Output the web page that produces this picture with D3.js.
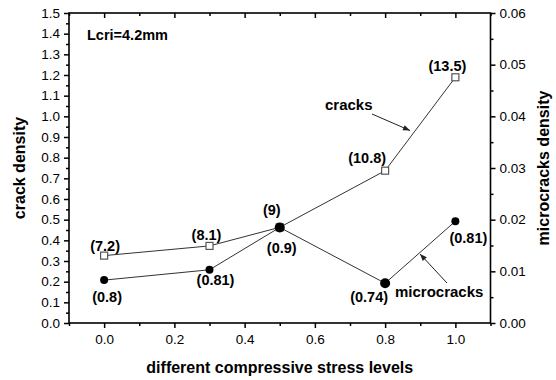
<!DOCTYPE html>
<html>
<head>
<meta charset="utf-8">
<script src="https://cdn.jsdelivr.net/npm/d3@7"></script>
<style>
  body { margin: 0; background: #fff; }
  svg { display: block; font-family: "Liberation Sans", Arial, sans-serif; }
  .tick text { font-size: 13.5px; fill: #000; }
</style>
</head>
<body>
<div id="chart"></div>
<script>
// chart data
var stress = [0.0, 0.3, 0.5, 0.8, 1.0];           // compressive stress levels
var crackDensity = [0.326, 0.373, 0.463, 0.737, 1.189];  // left axis
var microDensity = [0.0083, 0.0103, 0.0185, 0.0077, 0.0197]; // right axis
var crackLabels = ["(7.2)", "(8.1)", "(9)", "(10.8)", "(13.5)"];
var microLabels = ["(0.8)", "(0.81)", "(0.9)", "(0.74)", "(0.81)"];
var xTicks = [0.0, 0.2, 0.4, 0.6, 0.8, 1.0];
var yLeftTicks = d3.range(0, 16).map(i => i / 10);
var yRightTicks = [0, 0.01, 0.02, 0.03, 0.04, 0.05, 0.06];

// label placement (offset from point, px)
var crackLabelOff = [[1, -5], [-3, -6], [-8, -12], [-18, -8], [-8, -6]];
var microLabelOff = [[3, 22], [6, 15], [2, 26], [-16, 19], [13, 22]];

const width = 556,
    height = 380,
    pLeft = 69, pRight = 490.5, pTop = 13, pBottom = 323;

var svg = d3.select("#chart").append("svg")
    .attr("width", width)
    .attr("height", height);

var x = d3.scaleLinear().domain([-0.1, 1.1]).range([pLeft, pRight]);
var yL = d3.scaleLinear().domain([0, 1.5]).range([pBottom, pTop]);
var yR = d3.scaleLinear().domain([0, 0.06]).range([pBottom, pTop]);

// arrow head
svg.append("defs").append("marker")
    .attr("id", "arr")
    .attr("viewBox", "0 0 10 10")
    .attr("refX", 10).attr("refY", 5)
    .attr("markerWidth", 9).attr("markerHeight", 7)
    .attr("markerUnits", "userSpaceOnUse")
    .attr("orient", "auto")
    .append("path").attr("d", "M0,1L10,5L0,9Z").attr("fill", "#222");

// minor ticks
function minor(axis, vals) {
    return axis.tickValues(vals).tickFormat("").tickSizeOuter(0);
}
var xMinor = d3.range(-1, 12).map(i => i / 10).filter(v => Math.round(v * 10) % 2 != 0);
var yLMinor = d3.range(0, 15).map(i => i / 10 + 0.05);
var yRMinor = d3.range(0, 6).map(i => i / 100 + 0.005);

svg.append("g").attr("transform", "translate(0," + pBottom + ")")
    .call(minor(d3.axisBottom(x).tickSize(3), xMinor));
svg.append("g").attr("transform", "translate(0," + pTop + ")")
    .call(minor(d3.axisBottom(x).tickSize(3), xMinor));
svg.append("g").attr("transform", "translate(" + pLeft + ",0)")
    .call(minor(d3.axisLeft(yL).tickSize(3), yLMinor));
svg.append("g").attr("transform", "translate(" + pRight + ",0)")
    .call(minor(d3.axisRight(yR).tickSize(3), yRMinor));

// major axes
svg.append("g").attr("transform", "translate(0," + pBottom + ")")
    .call(d3.axisBottom(x).tickValues(xTicks).tickFormat(d3.format(".1f")).tickSize(5).tickSizeOuter(0).tickPadding(6));
svg.append("g").attr("transform", "translate(0," + pTop + ")")
    .call(d3.axisBottom(x).tickValues(xTicks).tickFormat("").tickSize(5).tickSizeOuter(0));
svg.append("g").attr("transform", "translate(" + pLeft + ",0)")
    .call(d3.axisLeft(yL).tickValues(yLeftTicks).tickFormat(d3.format(".1f")).tickSize(5).tickSizeOuter(0).tickPadding(4));
svg.append("g").attr("transform", "translate(" + pRight + ",0)")
    .call(d3.axisRight(yR).tickValues(yRightTicks).tickFormat(d3.format(".2f")).tickSize(5).tickSizeOuter(0).tickPadding(4));

svg.selectAll(".domain").remove();
svg.selectAll(".tick line").attr("stroke", "#000").attr("stroke-width", 1.5);

// frame
svg.append("rect")
    .attr("x", pLeft).attr("y", pTop)
    .attr("width", pRight - pLeft).attr("height", pBottom - pTop)
    .attr("fill", "none").attr("stroke", "#000").attr("stroke-width", 1.6);

// lines
var crackPts = stress.map((s, i) => [x(s), yL(crackDensity[i])]);
var microPts = stress.map((s, i) => [x(s), yR(microDensity[i])]);
var line = d3.line();

svg.append("path").attr("d", line(crackPts))
    .attr("fill", "none").attr("stroke", "#333").attr("stroke-width", 1);
svg.append("path").attr("d", line(microPts))
    .attr("fill", "none").attr("stroke", "#333").attr("stroke-width", 1);

// cracks markers (open squares)
svg.selectAll("rect.sq").data(crackPts).enter().append("rect")
    .attr("class", "sq")
    .attr("x", d => d[0] - 3.5).attr("y", d => d[1] - 3.5)
    .attr("width", 7).attr("height", 7)
    .attr("fill", "#fff").attr("stroke", "#555").attr("stroke-width", 1.2);

// microcracks markers (filled circles)
svg.selectAll("circle.mc").data(microPts).enter().append("circle")
    .attr("class", "mc")
    .attr("cx", d => d[0]).attr("cy", d => d[1])
    .attr("r", (d, i) => (i == 2 || i == 3) ? 5 : 4)
    .attr("fill", "#000");

// point labels
function labels(pts, txt, off) {
    svg.selectAll(null).data(pts).enter().append("text")
        .attr("x", (d, i) => d[0] + off[i][0])
        .attr("y", (d, i) => d[1] + off[i][1])
        .attr("text-anchor", "middle")
        .style("font-size", "14.5px").style("font-weight", "bold")
        .text((d, i) => txt[i]);
}
labels(crackPts, crackLabels, crackLabelOff);
labels(microPts, microLabels, microLabelOff);

// annotations
svg.append("text").attr("x", 87).attr("y", 40)
    .style("font-size", "14.5px").style("font-weight", "bold")
    .text("Lcri=4.2mm");
svg.append("text").attr("x", 325).attr("y", 110)
    .style("font-size", "15px").style("font-weight", "bold")
    .text("cracks");
svg.append("line")
    .attr("x1", 372).attr("y1", 114).attr("x2", 410).attr("y2", 130.5)
    .attr("stroke", "#222").attr("stroke-width", 1).attr("marker-end", "url(#arr)");
svg.append("text").attr("x", 395).attr("y", 297)
    .style("font-size", "15px").style("font-weight", "bold")
    .text("microcracks");
svg.append("line")
    .attr("x1", 447).attr("y1", 283).attr("x2", 420).attr("y2", 254)
    .attr("stroke", "#222").attr("stroke-width", 1).attr("marker-end", "url(#arr)");

// axis titles
svg.append("text")
    .attr("x", (pLeft + pRight) / 2).attr("y", 373)
    .attr("text-anchor", "middle")
    .style("font-size", "16px").style("font-weight", "bold")
    .text("different compressive stress levels");
svg.append("text")
    .attr("transform", "translate(25," + (pTop + pBottom) / 2 + ") rotate(-90)")
    .attr("text-anchor", "middle")
    .style("font-size", "16px").style("font-weight", "bold")
    .text("crack density");
svg.append("text")
    .attr("transform", "translate(549," + (pTop + pBottom) / 2 + ") rotate(-90)")
    .attr("text-anchor", "middle")
    .style("font-size", "16px").style("font-weight", "bold")
    .text("microcracks density");
</script>
</body>
</html>
